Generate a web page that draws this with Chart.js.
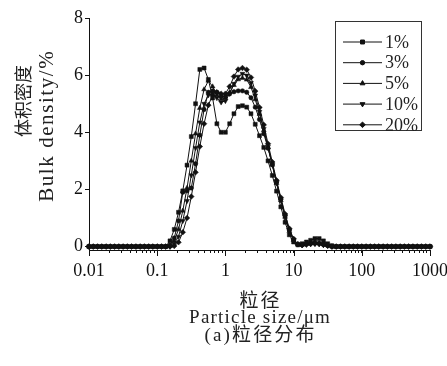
<!DOCTYPE html>
<html>
<head>
<meta charset="utf-8">
<title>粒径分布</title>
<script src="https://cdn.jsdelivr.net/npm/chart.js@4.4.0/dist/chart.umd.min.js"></script>
<style>
  html, body { margin: 0; padding: 0; background: #fff; }
  canvas { display: block; }
</style>
</head>
<body>
<canvas id="psdChart" width="447" height="366"></canvas>
<script>
// Particle size bins (um), 16 per decade, 0.01 - 1000
const sizes = [
  0.01, 0.01155, 0.01334, 0.0154, 0.01778, 0.02054, 0.02371, 0.02738, 0.03162, 0.03652, 0.04217, 0.0487, 0.05623, 0.06494, 0.07499, 0.0866,
  0.1, 0.1155, 0.1334, 0.154, 0.1778, 0.2054, 0.2371, 0.2738, 0.3162, 0.3652, 0.4217, 0.487, 0.5623, 0.6494, 0.7499, 0.866,
  1, 1.155, 1.334, 1.54, 1.778, 2.054, 2.371, 2.738, 3.162, 3.652, 4.217, 4.87, 5.623, 6.494, 7.499, 8.66,
  10, 11.55, 13.34, 15.4, 17.78, 20.54, 23.71, 27.38, 31.62, 36.52, 42.17, 48.7, 56.23, 64.94, 74.99, 86.6,
  100, 115.5, 133.4, 154, 177.8, 205.4, 237.1, 273.8, 316.2, 365.2, 421.7, 487, 562.3, 649.4, 749.9, 866,
  1000
];

// Bulk density (%) per bin
const psd1 = [
  0, 0, 0, 0, 0, 0, 0, 0, 0, 0,
  0, 0, 0, 0, 0, 0, 0, 0, 0, 0.2,
  0.6, 1.2, 1.95, 2.85, 3.85, 5.0, 6.2, 6.25, 5.85, 5.2,
  4.3, 4.0, 4.0, 4.3, 4.65, 4.9, 4.93, 4.88, 4.65, 4.28,
  3.88, 3.47, 3.0, 2.49, 1.94, 1.39, 0.85, 0.41, 0.16, 0.06,
  0.1, 0.16, 0.22, 0.28, 0.28, 0.2, 0.1, 0.03, 0, 0,
  0, 0, 0, 0, 0, 0, 0, 0, 0, 0,
  0, 0, 0, 0, 0, 0, 0, 0, 0, 0,
  0
];
const psd3 = [
  0, 0, 0, 0, 0, 0, 0, 0, 0, 0,
  0, 0, 0, 0, 0, 0, 0, 0, 0, 0.05,
  0.3, 0.9, 1.9, 1.95, 2.05, 2.9, 3.9, 4.8, 5.4, 5.45,
  5.4, 5.25, 5.25, 5.35, 5.42, 5.45, 5.45, 5.4, 5.21, 4.88,
  4.45, 3.95, 3.44, 2.87, 2.27, 1.67, 1.09, 0.58, 0.24, 0.08,
  0.06, 0.09, 0.12, 0.14, 0.12, 0.08, 0.04, 0, 0, 0,
  0, 0, 0, 0, 0, 0, 0, 0, 0, 0,
  0, 0, 0, 0, 0, 0, 0, 0, 0, 0,
  0
];
const psd5 = [
  0, 0, 0, 0, 0, 0, 0, 0, 0, 0,
  0, 0, 0, 0, 0, 0, 0, 0, 0, 0.02,
  0.2, 0.6, 1.25, 2.05, 3.0, 3.95, 4.85, 5.5, 5.8, 5.6,
  5.3, 5.15, 5.2, 5.4, 5.65, 5.85, 5.9, 5.84, 5.58, 5.15,
  4.64, 4.07, 3.47, 2.86, 2.22, 1.62, 1.04, 0.54, 0.23, 0.08,
  0.06, 0.09, 0.12, 0.14, 0.12, 0.08, 0.04, 0, 0, 0,
  0, 0, 0, 0, 0, 0, 0, 0, 0, 0,
  0, 0, 0, 0, 0, 0, 0, 0, 0, 0,
  0
];
const psd10 = [
  0, 0, 0, 0, 0, 0, 0, 0, 0, 0,
  0, 0, 0, 0, 0, 0, 0, 0, 0, 0,
  0.1, 0.35, 0.9, 1.6, 2.5, 3.45, 4.35, 5.0, 5.3, 5.35,
  5.2, 5.05, 5.1, 5.35, 5.7, 5.95, 6.05, 5.99, 5.73, 5.29,
  4.72, 4.12, 3.5, 2.86, 2.22, 1.62, 1.04, 0.55, 0.24, 0.08,
  0.05, 0.07, 0.09, 0.1, 0.09, 0.06, 0.03, 0, 0, 0,
  0, 0, 0, 0, 0, 0, 0, 0, 0, 0,
  0, 0, 0, 0, 0, 0, 0, 0, 0, 0,
  0
];
const psd20 = [
  0, 0, 0, 0, 0, 0, 0, 0, 0, 0,
  0, 0, 0, 0, 0, 0, 0, 0, 0, 0,
  0.02, 0.15, 0.5, 1.0, 1.75, 2.6, 3.5, 4.3, 4.95, 5.3,
  5.4, 5.35, 5.35, 5.6, 5.95, 6.2, 6.25, 6.19, 5.92, 5.44,
  4.87, 4.26, 3.6, 2.96, 2.32, 1.72, 1.14, 0.63, 0.27, 0.08,
  0.05, 0.07, 0.09, 0.1, 0.09, 0.06, 0.03, 0, 0, 0,
  0, 0, 0, 0, 0, 0, 0, 0, 0, 0,
  0, 0, 0, 0, 0, 0, 0, 0, 0, 0,
  0
];

const seriesLabels = ['1%', '3%', '5%', '10%', '20%'];
const seriesValues = [psd1, psd3, psd5, psd10, psd20];

const xTickValues = [0.01, 0.1, 1, 10, 100, 1000];
const xTickLabels = ['0.01', '0.1', '1', '10', '100', '1000'];
const yTickValues = [0, 2, 4, 6, 8];

const SERIF = "'Liberation Serif', 'Noto Sans CJK SC', serif";
const CJK = "'Noto Sans CJK SC', sans-serif";
const INK = '#111';

// marker per series: square, circle, triangle, down triangle, diamond
const markers = [
  { pointStyle: 'rect', pointRadius: 2.8, pointRotation: 0 },
  { pointStyle: 'circle', pointRadius: 2.2, pointRotation: 0 },
  { pointStyle: 'triangle', pointRadius: 2.8, pointRotation: 0 },
  { pointStyle: 'triangle', pointRadius: 2.8, pointRotation: 180 },
  { pointStyle: 'rectRot', pointRadius: 2.8, pointRotation: 0 }
];

// draw text centred at (cx, cy), spreading letters to fill a given span
function spacedText(ctx, text, cx, cy, span, font, rotate) {
  ctx.save();
  ctx.font = font;
  ctx.letterSpacing = '0px';
  const natural = ctx.measureText(text).width;
  const gap = Math.max(0, (span - natural) / text.length);
  ctx.letterSpacing = gap + 'px';
  ctx.translate(cx + (rotate ? 0 : gap / 2), cy + (rotate ? gap / 2 : 0));
  if (rotate) ctx.rotate(-Math.PI / 2);
  ctx.textAlign = 'center';
  ctx.textBaseline = 'middle';
  ctx.fillText(text, 0, 0);
  ctx.restore();
}

const decorations = {
  id: 'decorations',
  afterDraw(chart) {
    const ctx = chart.ctx;
    const area = chart.chartArea;
    const xs = chart.scales.x;
    ctx.save();

    // longer marks at the decades
    ctx.strokeStyle = INK;
    ctx.lineWidth = 1;
    xTickValues.forEach(v => {
      const px = Math.round(xs.getPixelForValue(v)) + 0.5;
      ctx.beginPath();
      ctx.moveTo(px, area.bottom);
      ctx.lineTo(px, area.bottom + 6);
      ctx.stroke();
    });

    // axis titles and caption
    ctx.fillStyle = '#222';
    spacedText(ctx, '体积密度', 23, 101, 66, '18px ' + CJK, true);
    spacedText(ctx, 'Bulk density/%', 47, 125, 152, '21px ' + SERIF, true);
    const mid = (area.left + area.right) / 2;
    spacedText(ctx, '粒径', mid, 300, 42, '19px ' + CJK, false);
    spacedText(ctx, 'Particle size/μm', mid, 318, 142, '19px ' + SERIF, false);
    spacedText(ctx, '(a)粒径分布', mid, 336, 112, '19px ' + SERIF, false);

    // legend box
    ctx.strokeStyle = '#333';
    ctx.lineWidth = 1;
    ctx.strokeRect(335.5, 21.5, 86, 109);
    chart.data.datasets.forEach((ds, i) => {
      const y = 42 + i * 20.7;
      ctx.strokeStyle = INK;
      ctx.beginPath();
      ctx.moveTo(343, y);
      ctx.lineTo(382, y);
      ctx.stroke();
      ctx.fillStyle = INK;
      Chart.helpers.drawPoint(ctx, {
        pointStyle: ds.pointStyle,
        radius: ds.pointRadius,
        rotation: ds.pointRotation,
        borderWidth: 0.5
      }, 362.5, y);
      ctx.fillStyle = '#222';
      ctx.font = '18px ' + SERIF;
      ctx.textAlign = 'left';
      ctx.textBaseline = 'middle';
      ctx.fillText(ds.label, 385, y + 1);
    });
    ctx.restore();
  }
};

const datasets = seriesLabels.map((label, k) => ({
  label: label,
  data: sizes.map((s, i) => ({ x: s, y: seriesValues[k][i] })),
  borderColor: INK,
  backgroundColor: INK,
  borderWidth: 1,
  pointStyle: markers[k].pointStyle,
  pointRadius: markers[k].pointRadius,
  pointRotation: markers[k].pointRotation,
  pointBorderWidth: 0.5,
  pointBackgroundColor: INK,
  pointBorderColor: INK,
  tension: 0,
  clip: 4
}));

new Chart(document.getElementById('psdChart'), {
  type: 'line',
  data: { datasets: datasets },
  options: {
    responsive: false,
    animation: false,
    events: [],
    layout: { padding: { top: 18, right: 17, left: 0, bottom: 0 } },
    plugins: {
      legend: { display: false },
      tooltip: { enabled: false },
      title: { display: false }
    },
    scales: {
      x: {
        type: 'logarithmic',
        min: 0.01,
        max: 1000,
        afterBuildTicks(scale) {
          const ticks = [];
          xTickValues.forEach((d, k) => {
            ticks.push({ value: d });
            if (k < xTickValues.length - 1) {
              for (let m = 2; m <= 9; m++) ticks.push({ value: d * m });
            }
          });
          scale.ticks = ticks;
        },
        afterFit(scale) {
          scale.height = 116;
          scale.paddingLeft = 0;
          scale.paddingRight = 0;
        },
        ticks: {
          autoSkip: false,
          maxRotation: 0,
          padding: 7,
          color: INK,
          font: { family: SERIF, size: 18 },
          callback(value) {
            const k = xTickValues.indexOf(value);
            return k >= 0 ? xTickLabels[k] : '';
          }
        },
        grid: { display: true, drawOnChartArea: false, drawTicks: true, tickLength: 3, tickColor: INK },
        border: { display: true, color: INK, width: 1 }
      },
      y: {
        type: 'linear',
        min: -0.12,
        max: 8,
        afterBuildTicks(scale) {
          scale.ticks = yTickValues.map(v => ({ value: v }));
        },
        afterFit(scale) {
          scale.width = 89;
          scale.paddingTop = 0;
          scale.paddingBottom = 0;
        },
        ticks: {
          padding: 2,
          color: INK,
          font: { family: SERIF, size: 18 }
        },
        grid: { display: true, drawOnChartArea: false, drawTicks: true, tickLength: 4, tickColor: INK },
        border: { display: true, color: INK, width: 1 }
      }
    }
  },
  plugins: [decorations]
});
</script>
</body>
</html>
